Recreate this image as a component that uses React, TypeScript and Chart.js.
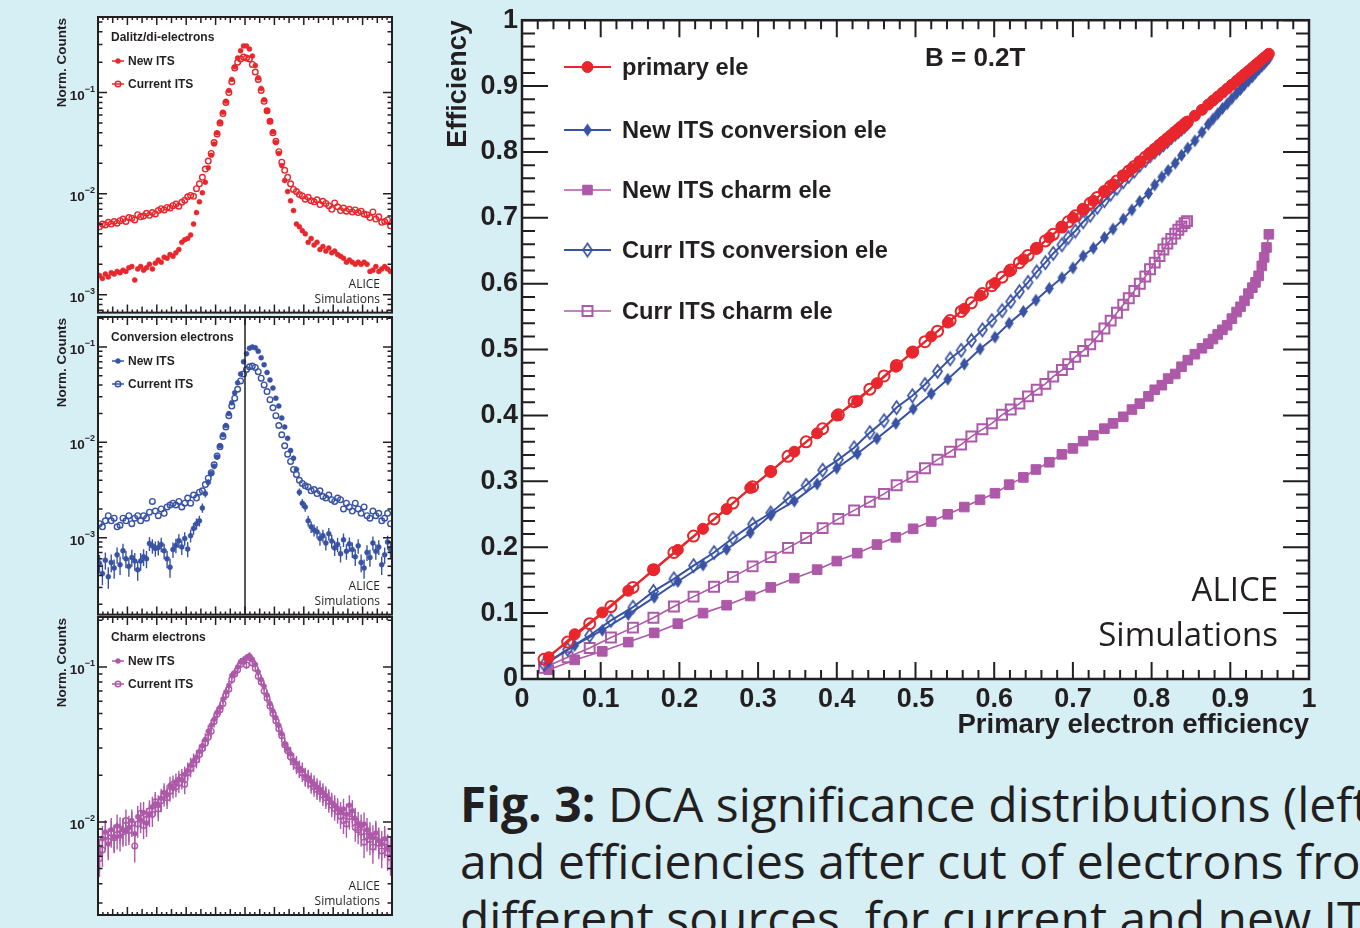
import React, { useEffect, useRef } from "react";
import { Chart, registerables } from "chart.js";

Chart.register(...registerables);

const BG = "#d6eff5";
const INK = "#231f20";
const RED = "#e8262b";
const BLUE = "#3953a4";
const PINK = "#ad58a8";
const SANS = "'Liberation Sans', Arial, Helvetica, sans-serif";
const HUMAN = "'Open Sans', 'Noto Sans', sans-serif";

// ---------------- Efficiency plot (right) ----------------
const newX = [0.034,0.067,0.102,0.135,0.168,0.198,0.23,0.26,0.29,0.316,0.346,0.375,0.4,0.426,0.451,0.475,0.497,0.52,0.541,0.562,0.582,0.601,0.619,0.637,0.653,0.67,0.686,0.7,0.713,0.726,0.74,0.751,0.764,0.775,0.785,0.796,0.804,0.813,0.821,0.83,0.838,0.846,0.855,0.864,0.872,0.878,0.884,0.89,0.896,0.902,0.908,0.913,0.918,0.923,0.928,0.932,0.936,0.94,0.943,0.946,0.949];
const newPrimary = [0.033,0.068,0.101,0.134,0.166,0.196,0.228,0.258,0.29,0.315,0.345,0.373,0.4,0.422,0.449,0.474,0.497,0.52,0.541,0.562,0.582,0.601,0.619,0.637,0.653,0.67,0.686,0.7,0.713,0.726,0.74,0.751,0.764,0.775,0.785,0.796,0.804,0.813,0.821,0.83,0.838,0.846,0.855,0.864,0.872,0.878,0.884,0.89,0.896,0.902,0.908,0.913,0.918,0.923,0.928,0.932,0.936,0.94,0.943,0.946,0.949];
const newConv = [0.026,0.051,0.074,0.098,0.124,0.148,0.173,0.197,0.222,0.249,0.27,0.296,0.32,0.342,0.365,0.388,0.41,0.433,0.455,0.478,0.501,0.519,0.54,0.558,0.575,0.593,0.609,0.624,0.642,0.654,0.67,0.683,0.698,0.712,0.725,0.737,0.75,0.762,0.772,0.783,0.795,0.806,0.817,0.83,0.842,0.85,0.858,0.866,0.873,0.881,0.889,0.895,0.902,0.908,0.914,0.92,0.925,0.93,0.934,0.938,0.942];
const newCharm = [0.014,0.029,0.042,0.056,0.07,0.084,0.1,0.112,0.126,0.139,0.153,0.166,0.179,0.191,0.204,0.215,0.228,0.239,0.25,0.261,0.272,0.282,0.295,0.306,0.318,0.329,0.341,0.35,0.361,0.37,0.38,0.388,0.398,0.409,0.418,0.429,0.439,0.446,0.456,0.463,0.474,0.484,0.493,0.502,0.509,0.516,0.523,0.53,0.537,0.547,0.557,0.565,0.574,0.585,0.594,0.602,0.612,0.627,0.64,0.655,0.675];

const currX = [0.028,0.058,0.086,0.113,0.141,0.167,0.193,0.218,0.244,0.268,0.293,0.316,0.338,0.361,0.382,0.402,0.422,0.442,0.46,0.476,0.496,0.512,0.528,0.544,0.558,0.571,0.585,0.597,0.61,0.621,0.632,0.643,0.654,0.665,0.675,0.686,0.694,0.703,0.713,0.722,0.731,0.74,0.748,0.756,0.764,0.771,0.778,0.785,0.792,0.798,0.804,0.81,0.815,0.82,0.825,0.83,0.834,0.838,0.842,0.845];
const currPrimary = [0.03,0.056,0.084,0.11,0.139,0.166,0.192,0.217,0.243,0.267,0.292,0.315,0.338,0.36,0.38,0.401,0.421,0.44,0.46,0.476,0.496,0.512,0.528,0.544,0.558,0.571,0.585,0.597,0.61,0.621,0.632,0.643,0.654,0.665,0.675,0.686,0.694,0.703,0.713,0.722,0.731,0.74,0.748,0.756,0.764,0.771,0.778,0.785,0.792,0.798,0.804,0.81,0.815,0.82,0.825,0.83,0.834,0.838,0.842,0.845];
const currConv = [0.022,0.045,0.066,0.089,0.109,0.133,0.152,0.172,0.192,0.214,0.235,0.252,0.274,0.294,0.317,0.333,0.351,0.374,0.392,0.412,0.43,0.447,0.467,0.486,0.499,0.514,0.53,0.544,0.559,0.573,0.588,0.602,0.618,0.632,0.646,0.659,0.67,0.68,0.694,0.704,0.716,0.726,0.736,0.745,0.755,0.763,0.771,0.78,0.787,0.794,0.8,0.806,0.811,0.816,0.822,0.827,0.831,0.835,0.839,0.843];
const currCharm = [0.017,0.033,0.047,0.063,0.078,0.093,0.11,0.125,0.14,0.155,0.171,0.185,0.199,0.214,0.229,0.243,0.256,0.269,0.281,0.294,0.307,0.32,0.333,0.345,0.356,0.368,0.379,0.388,0.401,0.409,0.418,0.429,0.439,0.448,0.459,0.469,0.478,0.489,0.498,0.508,0.52,0.532,0.544,0.556,0.568,0.578,0.589,0.6,0.611,0.622,0.632,0.642,0.652,0.661,0.668,0.676,0.682,0.687,0.692,0.695];

const legendLabels = ["primary ele", "New ITS conversion ele", "New ITS charm ele", "Curr ITS conversion ele", "Curr ITS charm ele"];

// ---------------- DCA significance panels (left) ----------------
const dcaX = [-9.9,-9.7,-9.5,-9.3,-9.1,-8.9,-8.7,-8.5,-8.3,-8.1,-7.9,-7.7,-7.5,-7.3,-7.1,-6.9,-6.7,-6.5,-6.3,-6.1,-5.9,-5.7,-5.5,-5.3,-5.1,-4.9,-4.7,-4.5,-4.3,-4.1,-3.9,-3.7,-3.5,-3.3,-3.1,-2.9,-2.7,-2.5,-2.3,-2.1,-1.9,-1.7,-1.5,-1.3,-1.1,-0.9,-0.7,-0.5,-0.3,-0.1,0.1,0.3,0.5,0.7,0.9,1.1,1.3,1.5,1.7,1.9,2.1,2.3,2.5,2.7,2.9,3.1,3.3,3.5,3.7,3.9,4.1,4.3,4.5,4.7,4.9,5.1,5.3,5.5,5.7,5.9,6.1,6.3,6.5,6.7,6.9,7.1,7.3,7.5,7.7,7.9,8.1,8.3,8.5,8.7,8.9,9.1,9.3,9.5,9.7,9.9];
const dcaTicks = [-10,-8,-6,-4,-2,0,2,4,6,8,10];

const dalitzNew = [0.00155,0.00145,0.0016,0.0015,0.00165,0.0016,0.0017,0.00165,0.00175,0.0017,0.00185,0.0019,0.0014,0.0018,0.0019,0.00175,0.00185,0.002,0.0018,0.00205,0.0022,0.0021,0.00235,0.0023,0.0025,0.0024,0.0026,0.0028,0.0033,0.0035,0.0036,0.0039,0.005,0.0065,0.0083,0.0102,0.013,0.018,0.024,0.031,0.04,0.051,0.064,0.082,0.105,0.135,0.18,0.22,0.26,0.29,0.29,0.27,0.23,0.185,0.14,0.11,0.085,0.066,0.052,0.041,0.032,0.025,0.019,0.0135,0.0105,0.0085,0.0068,0.005,0.0047,0.0043,0.004,0.0033,0.0036,0.0031,0.0033,0.0028,0.003,0.0027,0.0029,0.0026,0.0027,0.0025,0.0024,0.0023,0.0021,0.0022,0.0021,0.002,0.0021,0.002,0.0021,0.002,0.0017,0.00175,0.0019,0.0017,0.0018,0.0019,0.0018,0.0017];
const dalitzCurr = [0.0047,0.005,0.0049,0.0052,0.005,0.0053,0.0051,0.0054,0.0056,0.0053,0.0058,0.0057,0.0055,0.0062,0.0059,0.006,0.0064,0.0061,0.0065,0.0063,0.0068,0.0071,0.0069,0.0073,0.0072,0.0076,0.0079,0.0075,0.0082,0.0086,0.0093,0.0096,0.0094,0.0112,0.0125,0.0145,0.0175,0.021,0.025,0.032,0.039,0.05,0.062,0.08,0.1,0.128,0.175,0.2,0.215,0.225,0.22,0.215,0.19,0.16,0.135,0.105,0.082,0.066,0.052,0.04,0.033,0.026,0.0205,0.017,0.0145,0.0125,0.011,0.0105,0.0098,0.0095,0.0088,0.0092,0.0085,0.0083,0.0087,0.0078,0.0084,0.008,0.0076,0.007,0.0081,0.0074,0.0068,0.0072,0.0067,0.007,0.0066,0.0069,0.0065,0.0067,0.0063,0.0062,0.0058,0.0066,0.0056,0.0059,0.0052,0.0053,0.0055,0.0048];
const convNew = [0.00054,0.00042,0.00058,0.00039,0.00055,0.00048,0.00066,0.00052,0.00073,0.0006,0.0005,0.00062,0.00057,0.00046,0.00057,0.00063,0.0006,0.00087,0.00082,0.00077,0.00079,0.00085,0.00073,0.0006,0.00049,0.00075,0.00083,0.00093,0.0008,0.00098,0.00076,0.00105,0.00125,0.0014,0.0015,0.00205,0.0029,0.0038,0.0047,0.0056,0.007,0.0092,0.012,0.015,0.02,0.026,0.033,0.042,0.052,0.07,0.085,0.097,0.1,0.098,0.09,0.077,0.065,0.054,0.045,0.037,0.029,0.024,0.018,0.0145,0.011,0.0082,0.0068,0.0052,0.003,0.0023,0.0021,0.0015,0.0013,0.0012,0.00115,0.00098,0.00105,0.00088,0.0011,0.00092,0.00078,0.00085,0.00068,0.00095,0.00072,0.00086,0.00075,0.00063,0.00082,0.00055,0.00048,0.0007,0.00062,0.00088,0.00072,0.0008,0.00052,0.00066,0.0009,0.00075];
const convCurr = [0.0014,0.0013,0.0015,0.0017,0.0015,0.0016,0.0013,0.00135,0.0016,0.0015,0.0017,0.0014,0.0016,0.0017,0.0015,0.0017,0.0016,0.00185,0.0024,0.0019,0.0017,0.002,0.0018,0.0021,0.0022,0.0023,0.0022,0.0024,0.0021,0.0023,0.0026,0.0023,0.0028,0.0026,0.003,0.0031,0.0036,0.0042,0.0048,0.0058,0.0072,0.009,0.0115,0.0145,0.019,0.024,0.029,0.036,0.044,0.052,0.058,0.062,0.063,0.061,0.055,0.047,0.04,0.034,0.028,0.023,0.019,0.015,0.012,0.0092,0.0075,0.0063,0.0052,0.0046,0.004,0.0037,0.0035,0.0034,0.0031,0.0032,0.0029,0.0031,0.0027,0.0026,0.0028,0.0025,0.0024,0.0026,0.0025,0.002,0.0023,0.0021,0.0019,0.0023,0.002,0.0018,0.0021,0.0017,0.0016,0.0019,0.0017,0.0018,0.0015,0.0016,0.0018,0.0014];
const charmNew = [0.0063,0.0078,0.0086,0.0072,0.0089,0.008,0.0094,0.0081,0.0089,0.0087,0.0092,0.0102,0.0084,0.0108,0.0103,0.0115,0.0098,0.0112,0.0125,0.0131,0.0128,0.0142,0.0155,0.015,0.0172,0.0165,0.0181,0.0189,0.0187,0.0202,0.0215,0.0232,0.0248,0.0262,0.0285,0.031,0.034,0.0385,0.042,0.046,0.051,0.055,0.062,0.069,0.076,0.088,0.092,0.1,0.108,0.111,0.115,0.118,0.112,0.104,0.093,0.083,0.075,0.066,0.058,0.052,0.047,0.042,0.037,0.032,0.0295,0.0275,0.025,0.0238,0.0222,0.0215,0.0198,0.0192,0.0183,0.0176,0.0168,0.0162,0.0155,0.0148,0.0141,0.0133,0.0128,0.0122,0.0115,0.0121,0.0112,0.0128,0.0118,0.0105,0.0098,0.0094,0.0097,0.0089,0.0083,0.0079,0.0085,0.0076,0.0072,0.0078,0.0068,0.0066];
const charmCurr = [0.0058,0.0066,0.0082,0.0075,0.0085,0.0079,0.0083,0.009,0.0086,0.0102,0.0088,0.0098,0.007,0.0097,0.0114,0.0095,0.0104,0.0118,0.0112,0.0135,0.0121,0.0137,0.0148,0.0143,0.0158,0.0175,0.0168,0.0178,0.0194,0.0175,0.0208,0.0221,0.0238,0.0251,0.0272,0.0298,0.0322,0.0352,0.0385,0.0445,0.0495,0.053,0.058,0.066,0.072,0.083,0.09,0.096,0.104,0.109,0.103,0.115,0.106,0.098,0.087,0.08,0.07,0.063,0.056,0.05,0.045,0.04,0.036,0.0315,0.0288,0.0262,0.0245,0.0231,0.0218,0.0207,0.0194,0.0189,0.0176,0.0169,0.0162,0.0157,0.0149,0.0143,0.0136,0.0128,0.0122,0.0117,0.0109,0.0102,0.0097,0.0108,0.0112,0.0092,0.0089,0.0086,0.0074,0.0081,0.0077,0.0069,0.0082,0.0073,0.0065,0.0074,0.0063,0.0059];

const PANELS = [
  { title: "Dalitz/di-electrons", color: RED, newY: dalitzNew, curY: dalitzCurr, min: 6.65e-4, max: 0.56, newN: 0, curN: 0, zeroLine: false, xLabels: false, top: 0, h: 318, padTop: 17, padBottom: 3 },
  { title: "Conversion electrons", color: BLUE, newY: convNew, curY: convCurr, min: 1.56e-4, max: 0.206, newN: 40000, curN: 0, zeroLine: true, xLabels: false, top: 310, h: 310, padTop: 7, padBottom: 5 },
  { title: "Charm electrons", color: PINK, newY: charmNew, curY: charmCurr, min: 2.51e-3, max: 0.21, newN: 3000, curN: 3000, zeroLine: false, xLabels: true, top: 610, h: 318, padTop: 7, padBottom: 13 },
];

function makeDiamond(w: number, h: number, color: string, filled: boolean) {
  const c = document.createElement("canvas");
  c.width = w + 4;
  c.height = h + 4;
  const g = c.getContext("2d")!;
  const cx = c.width / 2, cy = c.height / 2;
  g.beginPath();
  g.moveTo(cx, 2);
  g.lineTo(cx + w / 2, cy);
  g.lineTo(cx, cy + h / 2);
  g.lineTo(cx - w / 2, cy);
  g.closePath();
  if (filled) {
    g.fillStyle = color;
    g.fill();
  } else {
    g.strokeStyle = color;
    g.lineWidth = 1.7;
    g.stroke();
  }
  return c;
}

function drawMarker(ctx: CanvasRenderingContext2D, ds: any, x: number, y: number) {
  const st = ds.pointStyle;
  const r = ds.pointRadius;
  ctx.save();
  ctx.fillStyle = ds.pointBackgroundColor;
  ctx.strokeStyle = ds.pointBorderColor;
  ctx.lineWidth = ds.pointBorderWidth;
  if (typeof st !== "string") {
    ctx.drawImage(st, x - st.width / 2, y - st.height / 2);
  } else if (st === "rect") {
    const s = r * Math.SQRT1_2;
    ctx.beginPath();
    ctx.rect(x - s, y - s, 2 * s, 2 * s);
    ctx.fill();
    ctx.stroke();
  } else {
    ctx.beginPath();
    ctx.arc(x, y, r, 0, Math.PI * 2);
    ctx.fill();
    ctx.stroke();
  }
  ctx.restore();
}

const mainDeco = {
  id: "mainDeco",
  beforeDraw(chart: any) {
    const { ctx, chartArea: a } = chart;
    ctx.save();
    ctx.fillStyle = "#ffffff";
    ctx.fillRect(a.left, a.top, a.right - a.left, a.bottom - a.top);
    ctx.restore();
  },
  afterDraw(chart: any) {
    const { ctx, chartArea: a, scales } = chart;
    const xs = scales.x, ys = scales.y;
    ctx.save();
    ctx.strokeStyle = INK;
    ctx.lineWidth = 2;
    ctx.beginPath();
    for (let i = 0; i <= 50; i++) {
      const v = i / 50;
      const major = i % 5 === 0;
      const px = xs.getPixelForValue(v);
      const lx = major ? 17 : 9;
      ctx.moveTo(px, a.bottom);
      ctx.lineTo(px, a.bottom - lx);
      ctx.moveTo(px, a.top);
      ctx.lineTo(px, a.top + lx);
      const py = ys.getPixelForValue(v);
      const ly = major ? 26 : 13;
      ctx.moveTo(a.left, py);
      ctx.lineTo(a.left + ly, py);
      ctx.moveTo(a.right, py);
      ctx.lineTo(a.right - ly, py);
    }
    ctx.stroke();
    ctx.lineWidth = 2.5;
    ctx.strokeRect(a.left, a.top, a.right - a.left, a.bottom - a.top);

    // legend
    const order = [0, 2, 4, 3, 5];
    const rows = [67, 130, 190, 250, 311];
    ctx.font = `bold 23.7px ${SANS}`;
    ctx.textBaseline = "middle";
    ctx.textAlign = "left";
    order.forEach((di, k) => {
      const ds = chart.data.datasets[di];
      const y = rows[k];
      ctx.strokeStyle = ds.borderColor;
      ctx.lineWidth = ds.borderWidth;
      ctx.beginPath();
      ctx.moveTo(124, y);
      ctx.lineTo(171, y);
      ctx.stroke();
      drawMarker(ctx, ds, 147.5, y);
      ctx.fillStyle = INK;
      ctx.fillText(legendLabels[k], 182, y + 1);
    });

    ctx.font = `bold 26px ${SANS}`;
    ctx.fillStyle = INK;
    ctx.fillText("B = 0.2T", 485, 59);

    ctx.font = `33px ${HUMAN}`;
    ctx.textAlign = "right";
    ctx.fillText("ALICE", 838, 592);
    ctx.fillText("Simulations", 838, 637);
    ctx.restore();
  },
};

const panelDeco = {
  id: "panelDeco",
  beforeDraw(chart: any) {
    const { ctx, chartArea: a } = chart;
    ctx.save();
    ctx.fillStyle = "#ffffff";
    ctx.fillRect(a.left, a.top, a.right - a.left, a.bottom - a.top);
    ctx.restore();
  },
  beforeDatasetsDraw(chart: any) {
    const { ctx, chartArea: a } = chart;
    const ys = chart.scales.y;
    ctx.save();
    ctx.beginPath();
    ctx.rect(a.left, a.top, a.right - a.left, a.bottom - a.top);
    ctx.clip();
    chart.data.datasets.forEach((ds: any, i: number) => {
      const n = ds.entries;
      if (!n) return;
      const meta = chart.getDatasetMeta(i);
      ctx.strokeStyle = ds.errColor;
      ctx.lineWidth = 1.4;
      ctx.beginPath();
      meta.data.forEach((pt: any, j: number) => {
        const v = ds.data[j].y;
        const e = Math.sqrt(v / n);
        const y1 = ys.getPixelForValue(v + e);
        const y2 = ys.getPixelForValue(Math.max(v - e, v * 0.1));
        ctx.moveTo(pt.x, y1);
        ctx.lineTo(pt.x, y2);
      });
      ctx.stroke();
    });
    ctx.restore();
  },
  afterDraw(chart: any, _args: any, o: any) {
    const { ctx, chartArea: a, scales } = chart;
    const xs = scales.x, ys = scales.y;
    ctx.save();
    ctx.strokeStyle = INK;
    if (o.zeroLine) {
      ctx.lineWidth = 1.5;
      ctx.beginPath();
      const px = xs.getPixelForValue(0);
      ctx.moveTo(px, a.top);
      ctx.lineTo(px, a.bottom);
      ctx.stroke();
    }
    ctx.lineWidth = 1.5;
    ctx.beginPath();
    for (let i = 0; i <= 60; i++) {
      const v = -10 + i / 3;
      const len = i % 6 === 0 ? 8 : i % 3 === 0 ? 6 : 3;
      const px = xs.getPixelForValue(v);
      ctx.moveTo(px, a.bottom);
      ctx.lineTo(px, a.bottom - len);
      ctx.moveTo(px, a.top);
      ctx.lineTo(px, a.top + len);
    }
    const lo = Math.floor(Math.log10(ys.min));
    const hi = Math.ceil(Math.log10(ys.max));
    for (let d = lo; d <= hi; d++) {
      for (let m = 1; m <= 9; m++) {
        const v = m * Math.pow(10, d);
        if (v < ys.min || v > ys.max) continue;
        const py = ys.getPixelForValue(v);
        const len = m === 1 ? 9 : 4.5;
        ctx.moveTo(a.left, py);
        ctx.lineTo(a.left + len, py);
        ctx.moveTo(a.right, py);
        ctx.lineTo(a.right - len, py);
      }
    }
    ctx.stroke();
    ctx.lineWidth = 2;
    ctx.strokeRect(a.left, a.top, a.right - a.left, a.bottom - a.top);

    // decade labels
    ctx.fillStyle = INK;
    ctx.textBaseline = "alphabetic";
    for (let d = lo; d <= hi; d++) {
      const v = Math.pow(10, d);
      if (v < ys.min || v > ys.max) continue;
      const py = ys.getPixelForValue(v);
      const sup = String(d).replace("-", "\u2212");
      ctx.font = `bold 9px ${SANS}`;
      const ws = ctx.measureText(sup).width;
      const right = a.left - 3;
      ctx.textAlign = "right";
      ctx.fillText(sup, right, py - 1);
      ctx.font = `bold 13.5px ${SANS}`;
      ctx.fillText("10", right - ws, py + 7);
    }

    // y title
    ctx.save();
    ctx.translate(22, a.top + 1);
    ctx.rotate(-Math.PI / 2);
    ctx.font = `bold 13.5px ${SANS}`;
    ctx.textAlign = "right";
    ctx.textBaseline = "middle";
    ctx.fillText("Norm. Counts", 0, 0);
    ctx.restore();

    // x labels
    if (o.xLabels) {
      ctx.font = `bold 13.5px ${SANS}`;
      ctx.textAlign = "center";
      ctx.textBaseline = "middle";
      dcaTicks.forEach((t) => ctx.fillText(String(t), xs.getPixelForValue(t), a.bottom + 19));
    }

    // title + legend
    ctx.textAlign = "left";
    ctx.textBaseline = "middle";
    ctx.font = `bold 12px ${SANS}`;
    ctx.fillText(o.title, 71, a.top + 21);
    const names = ["New ITS", "Current ITS"];
    [0, 1].forEach((k) => {
      const ds = chart.data.datasets[k];
      const y = a.top + 44 + k * 23;
      ctx.strokeStyle = o.color;
      ctx.lineWidth = 1.5;
      ctx.beginPath();
      ctx.moveTo(72, y);
      ctx.lineTo(84, y);
      ctx.stroke();
      drawMarker(ctx, ds, 78, y);
      ctx.fillStyle = INK;
      ctx.font = `bold 12px ${SANS}`;
      ctx.fillText(names[k], 88, y + 0.5);
    });

    ctx.font = `12px ${HUMAN}`;
    ctx.textAlign = "right";
    ctx.fillStyle = INK;
    ctx.fillText("ALICE", a.right - 12, a.bottom - 28);
    ctx.fillText("Simulations", a.right - 12, a.bottom - 13);
    ctx.restore();
  },
};

function series(xs: number[], ys: number[]) {
  return xs.map((x, i) => ({ x, y: ys[i] }));
}

function mainConfig(dFill: HTMLCanvasElement, dOpen: HTMLCanvasElement): any {
  const mk = (label: string, xs: number[], ys: number[], color: string, style: any, filled: boolean, r: number, lw: number) => ({
    label,
    data: series(xs, ys),
    showLine: true,
    borderColor: color,
    borderWidth: lw,
    pointStyle: style,
    pointRadius: r,
    pointBackgroundColor: filled ? color : "rgba(0,0,0,0)",
    pointBorderColor: color,
    pointBorderWidth: filled ? 1 : 2,
    tension: 0,
  });
  const tickFont = { family: SANS, size: 27, weight: "bold" as const };
  const titleFont = { family: SANS, size: 27.5, weight: "bold" as const };
  return {
    type: "scatter",
    data: {
      datasets: [
        mk("primary ele (new)", newX, newPrimary, RED, "circle", true, 5.5, 2),
        mk("primary ele (curr)", currX, currPrimary, RED, "circle", false, 5.5, 2),
        mk("New ITS conversion ele", newX, newConv, BLUE, dFill, true, 6, 2),
        mk("Curr ITS conversion ele", currX, currConv, BLUE, dOpen, false, 6, 2),
        mk("New ITS charm ele", newX, newCharm, PINK, "rect", true, 6.8, 1.6),
        mk("Curr ITS charm ele", currX, currCharm, PINK, "rect", false, 7, 1.6),
      ],
    },
    options: {
      responsive: false,
      animation: false,
      devicePixelRatio: 1,
      events: [],
      layout: { padding: { left: 0, right: 31, top: 16, bottom: 0 } },
      plugins: { legend: { display: false }, tooltip: { enabled: false } },
      scales: {
        x: {
          type: "linear",
          min: 0,
          max: 1,
          grid: { display: false, drawTicks: false },
          border: { display: false },
          ticks: { stepSize: 0.1, font: tickFont, color: INK, padding: 4, maxRotation: 0, callback: (v: number) => String(Math.round(v * 10) / 10) },
          title: { display: true, text: "Primary electron efficiency", align: "end", color: INK, font: titleFont, padding: { top: 0, bottom: 8 } },
          afterFit: (s: any) => { s.height = 71; },
        },
        y: {
          type: "linear",
          min: 0,
          max: 1,
          grid: { display: false, drawTicks: false },
          border: { display: false },
          ticks: { stepSize: 0.1, font: tickFont, color: INK, padding: 4, callback: (v: number) => String(Math.round(v * 10) / 10) },
          title: { display: true, text: "Efficiency", align: "end", color: INK, font: tickFont, padding: { top: 2, bottom: 0 } },
          afterFit: (s: any) => { s.width = 82; },
        },
      },
    },
    plugins: [mainDeco],
  };
}

function panelConfig(p: any): any {
  const mk = (label: string, ys: number[], filled: boolean, n: number) => ({
    label,
    data: series(dcaX, ys),
    showLine: false,
    pointStyle: "circle",
    pointRadius: filled ? 2.5 : 2.8,
    pointBackgroundColor: filled ? p.color : "rgba(0,0,0,0)",
    pointBorderColor: p.color,
    pointBorderWidth: filled ? 0.5 : 1.4,
    borderColor: p.color,
    entries: n,
    errColor: p.color,
  });
  return {
    type: "scatter",
    data: {
      datasets: [mk("New ITS", p.newY, true, p.newN), mk("Current ITS", p.curY, false, p.curN)],
    },
    options: {
      responsive: false,
      animation: false,
      devicePixelRatio: 1,
      events: [],
      layout: { padding: { left: 58, right: 8, top: p.padTop, bottom: p.padBottom } },
      plugins: {
        legend: { display: false },
        tooltip: { enabled: false },
        panelDeco: { title: p.title, color: p.color, zeroLine: p.zeroLine, xLabels: p.xLabels },
      },
      scales: {
        x: { type: "linear", min: -10, max: 10, display: false },
        y: { type: "logarithmic", min: p.min, max: p.max, display: false },
      },
    },
    plugins: [panelDeco],
  };
}

export default function App() {
  const mainRef = useRef<HTMLCanvasElement>(null);
  const r1 = useRef<HTMLCanvasElement>(null);
  const r2 = useRef<HTMLCanvasElement>(null);
  const r3 = useRef<HTMLCanvasElement>(null);

  useEffect(() => {
    const charts: Chart[] = [];
    const dFill = makeDiamond(9, 13, BLUE, true);
    const dOpen = makeDiamond(9, 13, BLUE, false);
    charts.push(new Chart(mainRef.current as HTMLCanvasElement, mainConfig(dFill, dOpen)));
    const refs = [r1, r2, r3];
    PANELS.forEach((p, i) => {
      charts.push(new Chart(refs[i].current as HTMLCanvasElement, panelConfig(p)));
    });
    return () => charts.forEach((c) => c.destroy());
  }, []);

  const refs = [r1, r2, r3];
  return (
    <div style={{ position: "fixed", left: 0, top: 0, width: 1360, height: 928, background: BG, overflow: "hidden" }}>
      {PANELS.map((p, i) => (
        <canvas
          key={i}
          ref={refs[i]}
          width={360}
          height={p.h}
          style={{ position: "absolute", left: 40, top: p.top, width: 360, height: p.h }}
        />
      ))}
      <canvas ref={mainRef} width={900} height={750} style={{ position: "absolute", left: 440, top: 0, width: 900, height: 750 }} />
      <div
        style={{
          position: "absolute",
          left: 460,
          top: 775,
          whiteSpace: "nowrap",
          fontFamily: HUMAN,
          fontSize: 48,
          lineHeight: "57px",
          color: INK,
        }}
      >
        <div>
          <b>Fig. 3:</b> DCA significance distributions (left)
        </div>
        <div>and efficiencies after cut of electrons from</div>
        <div>different sources, for current and new ITS</div>
      </div>
    </div>
  );
}
